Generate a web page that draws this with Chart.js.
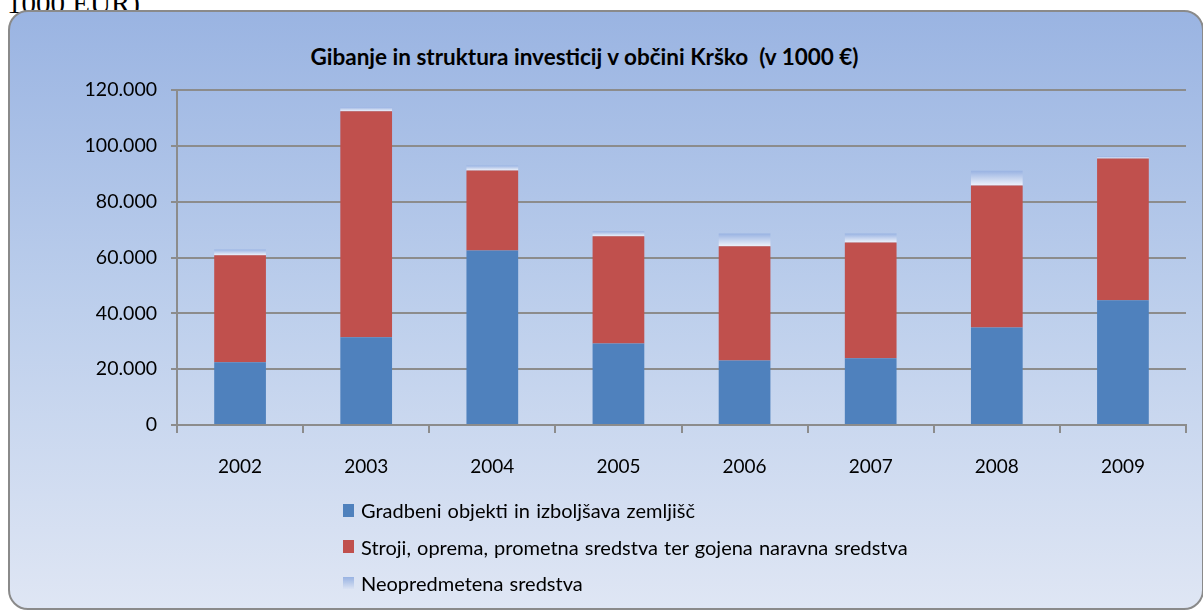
<!DOCTYPE html>
<html>
<head>
<meta charset="utf-8">
<script src="https://cdn.jsdelivr.net/npm/chart.js@4/dist/chart.umd.min.js"></script>
<style>
  html, body { margin: 0; padding: 0; background: #fff; }
  body { width: 1203px; height: 610px; position: relative; overflow: hidden; font-family: Lato, "Noto Sans", sans-serif; }
  .cut { position: absolute; left: 7px; top: -11px; font: 29px/29px "Liberation Serif", "DejaVu Serif", serif; color: #000; }
  .box {
    position: absolute; left: 8px; top: 10px; width: 1192px; height: 596px;
    border: 2px solid #8a8a8a; border-radius: 20px;
    background: linear-gradient(#9ab4e2, #bdcfec 50%, #dfe6f4);
  }
  .title { position: absolute; left: 0; top: 43px; width: 1169px; text-align: center; font-weight: bold; font-size: 22.5px; color: #000; }
  canvas { position: absolute; left: 0; top: 0; }
  #legend { position: absolute; left: 343px; top: 492px; font-size: 20px; word-spacing: 1px; color: #000; }
  #legend .row { height: 36.5px; display: flex; align-items: center; }
  #legend .sw { width: 11px; height: 13px; margin-right: 7px; }
</style>
</head>
<body>
<div class="cut">1000 EUR)</div>
<div class="box"></div>
<div class="title">Gibanje in struktura investicij v občini Krško&nbsp; (v 1000 €)</div>
<canvas id="chart" width="1203" height="610"></canvas>
<div id="legend"></div>
<script>
const years = ["2002", "2003", "2004", "2005", "2006", "2007", "2008", "2009"];
const gradbeni = [22500, 31400, 62500, 29200, 23100, 23900, 34900, 44700];
const stroji = [38300, 81000, 28700, 38400, 40900, 41500, 50900, 50800];
const neopredmetena = [2100, 1500, 1800, 1800, 4600, 3200, 5300, 700];
const yTicks = [0, 20000, 40000, 60000, 80000, 100000, 120000];

const seriesNames = [
  "Gradbeni objekti in izboljšava zemljišč",
  "Stroji, oprema, prometna sredstva ter gojena naravna sredstva",
  "Neopredmetena sredstva"
];

// gradient for the top segment, per bar
function neopFill(ctx) {
  const chart = ctx.chart;
  if (!chart.chartArea || ctx.type !== "data") return "#b9cbeb";
  const i = ctx.dataIndex;
  const base = gradbeni[i] + stroji[i];
  const y = chart.scales.y;
  const g = chart.ctx.createLinearGradient(0, y.getPixelForValue(base + neopredmetena[i]), 0, y.getPixelForValue(base));
  g.addColorStop(0, "#98b2e2");
  g.addColorStop(1, "#eef2fa");
  return g;
}

const gridGray = "#8c8c8c";

const chart = new Chart(document.getElementById("chart"), {
  type: "bar",
  data: {
    labels: years,
    datasets: [
      { label: seriesNames[0], data: gradbeni, backgroundColor: "#4f81bd" },
      { label: seriesNames[1], data: stroji, backgroundColor: "#c0504d" },
      { label: seriesNames[2], data: neopredmetena, backgroundColor: neopFill }
    ]
  },
  options: {
    responsive: false,
    animation: false,
    barPercentage: 0.41,
    categoryPercentage: 1,
    layout: { padding: { left: 0, right: 17, top: 90, bottom: 125 } },
    plugins: { legend: { display: false }, title: { display: false }, tooltip: { enabled: false } },
    scales: {
      x: {
        stacked: true,
        grid: { drawOnChartArea: false, drawTicks: true, tickLength: 8, color: gridGray, lineWidth: 2 },
        border: { color: gridGray, width: 2 },
        ticks: { color: "#000", font: { family: "Lato", size: 19 }, padding: 22, maxRotation: 0 },
        afterFit: s => { s.height = 60; s.paddingLeft = 0; s.paddingRight = 0; }
      },
      y: {
        stacked: true,
        min: 0,
        max: 120000,
        afterBuildTicks: s => { s.ticks = yTicks.map(v => ({ value: v })); },
        grid: { color: gridGray, lineWidth: 2, tickLength: 6 },
        border: { color: gridGray, width: 2 },
        ticks: {
          color: "#000",
          font: { family: "Lato", size: 19.5 },
          padding: 14,
          callback: v => v.toLocaleString("de-DE")
        },
        afterFit: s => { s.width = 177; s.paddingTop = 0; s.paddingBottom = 0; }
      }
    }
  }
});

// legend as html, one row per series
const legend = document.getElementById("legend");
chart.data.datasets.forEach((ds, i) => {
  const row = document.createElement("div");
  row.className = "row";
  const sw = document.createElement("span");
  sw.className = "sw";
  sw.style.background = i === 2 ? "linear-gradient(#98b2e2, rgba(238,242,250,0.2))" : ds.backgroundColor;
  const txt = document.createElement("span");
  txt.textContent = ds.label;
  row.appendChild(sw);
  row.appendChild(txt);
  legend.appendChild(row);
});
</script>
</body>
</html>
